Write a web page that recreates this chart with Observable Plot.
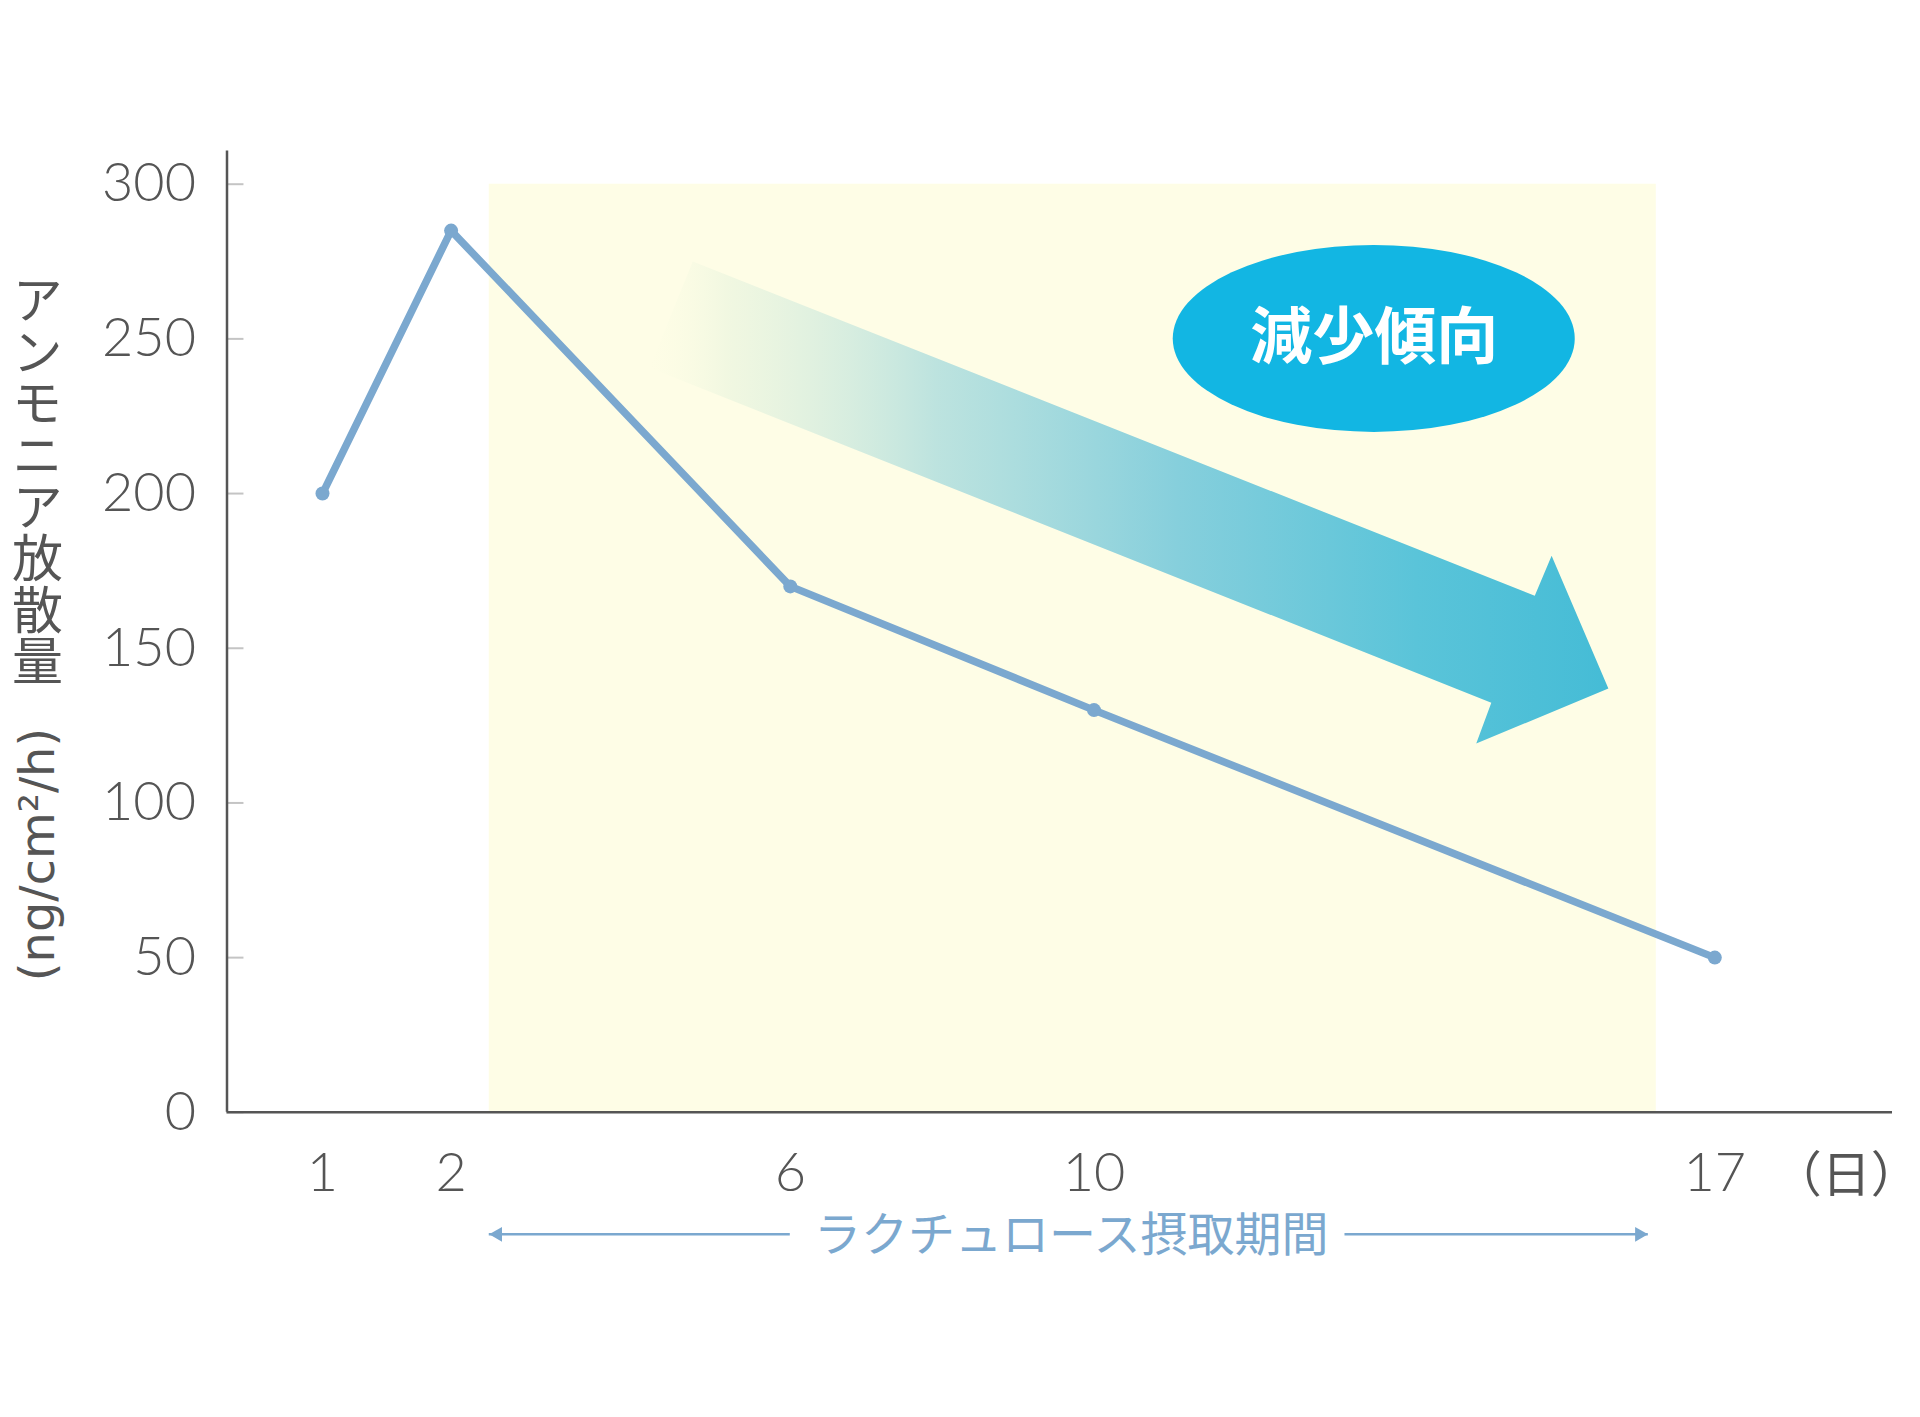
<!DOCTYPE html>
<html><head><meta charset="utf-8">
<script src="https://cdn.jsdelivr.net/npm/d3@7"></script>
<script src="https://cdn.jsdelivr.net/npm/@observablehq/plot@0.6"></script>
<style>
body{margin:0;background:#fff}
.ylab text{writing-mode:vertical-rl;text-orientation:upright;letter-spacing:0.6px;}
</style>
</head><body><div id="chart"></div>
<script>
// ---- data ----
const days = [1, 2, 6, 10, 17];
const ammonia = [200, 285, 170, 130, 50];
const xTicks = [1, 2, 6, 10, 17];
const yTicks = [0, 50, 100, 150, 200, 250, 300];
const yLabel = "アンモニア放散量";
const yUnit = "(ng/cm²/h)";
const xUnit = "（日）";
const xUnitDay = 18.48;
const periodLabel = "ラクチュロース摂取期間";
const periodLabelDay = 9.7;
const period = [2.45, 16.34];
const periodArrowStart = [2.45, 12.83];
const periodArrowEnd = [6.0, 16.25];
const trendLabel = "減少傾向";
const trendBubble = [{day: 13.16, value: 250}];
const trendArrowX = [4.85, 14.97, 15.16, 15.80, 14.31, 14.48, 4.34];
const trendArrowY = [275.0, 167.0, 179.9, 137.0, 119.2, 132.4, 240.7];

// ---- derived tables ----
const series = days.map((d, i) => ({day: d, value: ammonia[i]}));
const arrowPts = trendArrowX.map((x, i) => ({x, y: trendArrowY[i]}));
const periodSegs = periodArrowStart.map((s, i) => ({x1: s, x2: periodArrowEnd[i]}));
const periodHeads = [{x: periodArrowStart[0] + 0.1, rot: -90}, {x: periodArrowEnd[1] - 0.1, rot: 90}];

const lineColor = "#7ba8cf";
const axisColor = "#555555";
const numFont = "Lato,'Noto Sans',sans-serif";
const jpFont = "'Noto Sans CJK JP',sans-serif";
const xMin = 0.257, xMax = 19.0;

const defsMark = () => {
  const ns = "http://www.w3.org/2000/svg";
  const defs = document.createElementNS(ns, "defs");
  const g = document.createElementNS(ns, "linearGradient");
  g.setAttribute("id", "trendGrad");
  g.setAttribute("x1", "0"); g.setAttribute("y1", "0");
  g.setAttribute("x2", "1"); g.setAttribute("y2", "0");
  [[0, "#f6fbe0", 0], [0.08, "#e4f2dc", 0.5], [0.3, "#b5e0de", 0.9], [0.55, "#86cfdc", 1], [0.8, "#5ac4d9", 1], [1, "#45bcd6", 1]]
    .forEach(([o, c, a]) => {
      const s = document.createElementNS(ns, "stop");
      s.setAttribute("offset", o); s.setAttribute("stop-color", c); s.setAttribute("stop-opacity", a);
      g.appendChild(s);
    });
  defs.appendChild(g);
  return defs;
};

const bubbleMark = (index, scales) => {
  const ns = "http://www.w3.org/2000/svg";
  const e = document.createElementNS(ns, "ellipse");
  e.setAttribute("cx", scales.x(trendBubble[0].day));
  e.setAttribute("cy", scales.y(trendBubble[0].value));
  e.setAttribute("rx", 201);
  e.setAttribute("ry", 93.5);
  e.setAttribute("fill", "#12b6e3");
  return e;
};

const chart = Plot.plot({
  width: 1920,
  height: 1417,
  marginLeft: 226.5,
  marginRight: 28,
  marginTop: 150.6,
  marginBottom: 305.2,
  style: {fontFamily: numFont, background: "#fff"},
  x: {type: "linear", domain: [xMin, 1, 2, 6, 10, 17, xMax], range: [226.5, 322, 450.6, 789.8, 1093.5, 1714.3, 1892], label: null},
  y: {domain: [0, 310.7], range: [1111.8, 150.6], label: null},
  marks: [
    defsMark,
    Plot.rect([period], {x1: d => d[0], x2: d => d[1], y1: 0, y2: 300, fill: "#fefde6"}),
    Plot.line(arrowPts, {x: "x", y: "y", fill: "url(#trendGrad)", stroke: "none", curve: "linear-closed"}),
    bubbleMark,
    Plot.text([trendLabel], {x: trendBubble[0].day, y: trendBubble[0].value, fill: "#fff", fontSize: 62, fontWeight: 700, fontFamily: jpFont}),
    Plot.ruleY(yTicks, {x1: xMin, x2: xMin + 0.132, y: d => d, stroke: "#c4c4c4", strokeWidth: 2}),
    Plot.ruleY([0], {stroke: axisColor, strokeWidth: 2.5}),
    Plot.ruleX([xMin], {stroke: axisColor, strokeWidth: 2.5}),
    Plot.line(series, {x: "day", y: "value", stroke: lineColor, strokeWidth: 7.5}),
    Plot.dot(series, {x: "day", y: "value", r: 7, fill: lineColor}),
    Plot.axisY({ticks: yTicks, tickSize: 0, tickPadding: 31, fontSize: 54, fontWeight: 300, color: axisColor, tickFormat: d => String(d)}),
    Plot.axisX({ticks: xTicks, tickSize: 0, tickPadding: 40, fontSize: 54, fontWeight: 300, color: axisColor, tickFormat: d => String(d)}),
    Plot.text([xUnit], {x: xUnitDay, frameAnchor: "bottom", dy: 80, fontSize: 49, fill: axisColor, fontFamily: jpFont}),
    Plot.text([yLabel], {className: "ylab", frameAnchor: "top-left", textAnchor: "start", dx: -189.5, dy: 87, fontSize: 51, fill: axisColor, fontFamily: jpFont}),
    Plot.text([yUnit], {frameAnchor: "top-left", textAnchor: "middle", dx: -207, dy: 703.4, rotate: -90, fontSize: 48, fill: axisColor, fontFamily: "'DejaVu Sans',sans-serif"}),
    Plot.text([periodLabel], {x: periodLabelDay, frameAnchor: "bottom", dy: 139, fontSize: 47, fill: lineColor, fontFamily: jpFont}),
    Plot.ruleY(periodSegs, {x1: "x1", x2: "x2", y: 0, dy: 122, stroke: lineColor, strokeWidth: 2.5}),
    Plot.dot(periodHeads, {x: "x", y: 0, dy: 122, symbol: "triangle", rotate: "rot", r: 5.5, fill: lineColor})
  ]
});
document.getElementById("chart").appendChild(chart);
</script>
</body></html>
